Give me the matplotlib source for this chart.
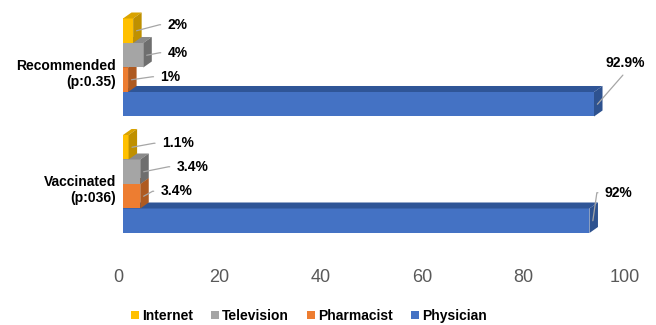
import matplotlib
matplotlib.use('Agg')
import matplotlib.pyplot as plt
import matplotlib.transforms as mtransforms
from matplotlib.patches import Polygon, Patch

plt.rcParams['font.family'] = ['Liberation Sans', 'DejaVu Sans']

# data
groups = ['Vaccinated\n(p:036)', 'Recommended\n(p:0.35)']
series = ['Physician', 'Pharmacist', 'Television', 'Internet']
values = {
    'Physician': [92.0, 92.9],
    'Pharmacist': [3.4, 1.0],
    'Television': [3.4, 4.0],
    'Internet': [1.1, 2.0],
}
labels = {
    'Physician': ['92%', '92.9%'],
    'Pharmacist': ['3.4%', '1%'],
    'Television': ['3.4%', '4%'],
    'Internet': ['1.1%', '2%'],
}
ticks = [0, 20, 40, 60, 80, 100]

# styling: front, top, side colours
colors = {
    'Physician': ('#4472C4', '#2F5597', '#2E528F'),
    'Pharmacist': ('#ED7D31', '#C2611F', '#AE5A21'),
    'Television': ('#A5A5A5', '#8A8A8A', '#6E6E6E'),
    'Internet': ('#FFC000', '#D9A300', '#BF9000'),
}
# label offsets in pixels (text left-center relative to the leader anchor)
offsets = {
    'Physician': [(12, 28), (8, 41)],
    'Pharmacist': [(17, 5), (29, 3)],
    'Television': [(33, 5), (21, 2.5)],
    'Internet': [(30, 4), (31, 6)],
}

group_base = [0.0, 4.755]
bar_h = 1.0
depth_x = 1.68
depth_y = 0.245

fig = plt.figure(figsize=(6.56, 3.25), dpi=100)
ax = fig.add_axes([123 / 656, 80 / 325, 507 / 656, 240 / 325])
ax.set_xlim(0, 100)
ax.set_ylim(-0.49, 9.306)
to_px = ax.transData
to_data = ax.transData.inverted()

for g, base in enumerate(group_base):
    for i, s in enumerate(series):
        v = values[s][g]
        y0 = base + i * bar_h
        y1 = y0 + bar_h
        front, top, side = colors[s]
        ax.barh(y0 + bar_h / 2, v, height=bar_h, color=front, zorder=2 + i)
        ax.add_patch(Polygon([(0, y1), (depth_x, y1 + depth_y), (v + depth_x, y1 + depth_y), (v, y1)],
                             closed=True, facecolor=top, edgecolor='none', zorder=2 + i))
        ax.add_patch(Polygon([(v, y0), (v, y1), (v + depth_x, y1 + depth_y), (v + depth_x, y0 + depth_y)],
                             closed=True, facecolor=side, edgecolor='none', zorder=2 + i))
        ox, oy = offsets[s][g]
        anchor = (v + depth_x * 0.4, y0 + bar_h / 2)
        px, py = to_px.transform(anchor)
        text_xy = to_data.transform((px + ox, py + oy))
        if s == 'Physician' and g == 1:
            arrow = dict(arrowstyle='-', color='#A6A6A6', lw=0.9, relpos=(0.55, 0.0),
                         shrinkA=2, shrinkB=0)
        else:
            arrow = dict(arrowstyle='-', color='#A6A6A6', lw=0.9, relpos=(0.0, 0.5),
                         shrinkA=3, shrinkB=0,
                         connectionstyle='arc,angleA=180,angleB=0,armA=8,armB=0,rad=0')
        ax.annotate(labels[s][g], xy=anchor, xytext=text_xy, textcoords='data',
                    ha='left', va='center', fontsize=10, fontweight='bold',
                    color='black', arrowprops=arrow, zorder=20)

for sp in ax.spines.values():
    sp.set_visible(False)

ax.set_xticks(ticks)
ax.set_xticklabels([str(t) for t in ticks])
ax.tick_params(axis='x', length=0, pad=17, labelsize=13, labelcolor='#595959')
shift = mtransforms.ScaledTranslation(-5 / 100, 0, fig.dpi_scale_trans)
for lab in ax.get_xticklabels():
    lab.set_transform(lab.get_transform() + shift)

ax.set_yticks([b + 2 * bar_h for b in group_base])
ax.set_yticklabels(groups, fontsize=10, fontweight='bold', linespacing=1.15)
ax.tick_params(axis='y', length=0, pad=5)
down = mtransforms.ScaledTranslation(0, -4 / 100, fig.dpi_scale_trans)
for lab in ax.get_yticklabels():
    lab.set_transform(lab.get_transform() + down)
    lab.set_multialignment('right')

handles = [Patch(facecolor=colors[s][0], edgecolor='none', label=s) for s in series[::-1]]
fig.legend(handles=handles, loc='center', bbox_to_anchor=(309 / 656, 1 - 316 / 325),
           ncol=4, frameon=False, prop={'weight': 'bold', 'size': 10},
           handlelength=0.55, handleheight=0.55, handletextpad=0.25, columnspacing=1.3,
           borderaxespad=0, borderpad=0)

fig.savefig('out.png', dpi=100, facecolor='white')
